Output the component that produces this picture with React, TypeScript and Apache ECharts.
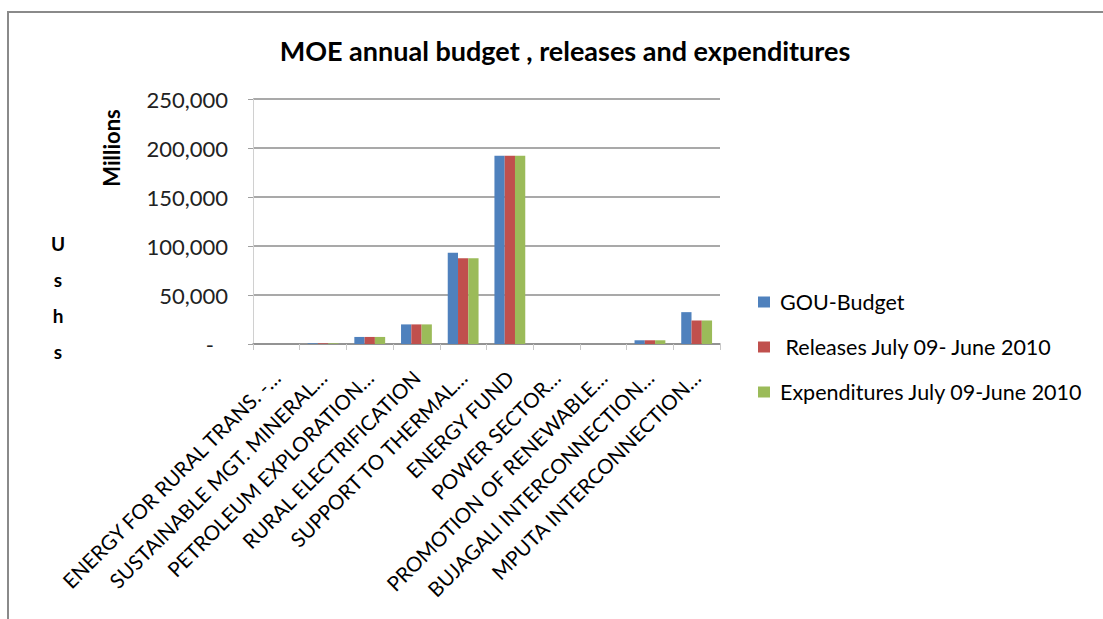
import React, { useEffect, useRef } from "react";
import * as echarts from "echarts";

const categories = [
  "ENERGY FOR RURAL TRANS. -…",
  "SUSTAINABLE MGT. MINERAL…",
  "PETROLEUM EXPLORATION…",
  "RURAL ELECTRIFICATION",
  "SUPPORT TO THERMAL…",
  "ENERGY FUND",
  "POWER SECTOR…",
  "PROMOTION OF RENEWABLE…",
  "BUJAGALI INTERCONNECTION…",
  "MPUTA INTERCONNECTION…",
];

const seriesNames = [
  "GOU-Budget",
  " Releases July 09- June 2010",
  "Expenditures July 09-June 2010",
];

const gouBudget = [0, 700, 7200, 20000, 93000, 192000, 0, 0, 3800, 32500];
const releases = [0, 700, 7200, 20000, 87500, 192000, 0, 0, 3800, 24000];
const expenditures = [0, 700, 7200, 20000, 87500, 192000, 0, 0, 3800, 24000];

const colors = ["#4F81BD", "#C0504D", "#9BBB59"];
const FONT = "Lato";

export default function App() {
  const ref = useRef<HTMLDivElement>(null);
  useEffect(() => {
    document.body.style.margin = "0";
    const chart = echarts.init(ref.current!, null, { renderer: "svg" });
    const values = [gouBudget, releases, expenditures];
    chart.setOption({
      animation: false,
      backgroundColor: "#ffffff",
      title: {
        text: "MOE annual budget , releases and expenditures",
        left: 560,
        top: 32,
        textAlign: "center",
        textStyle: { fontFamily: FONT, fontSize: 27, fontWeight: "bold", color: "#000" },
      },
      legend: {
        orient: "vertical",
        left: 753,
        top: 286,
        itemWidth: 12,
        itemHeight: 11,
        itemGap: 23,
        icon: "rect",
        data: seriesNames,
        textStyle: {
          fontFamily: FONT,
          fontSize: 21.5,
          lineHeight: 22,
          color: "#000",
          padding: [0, 0, 0, 5],
        },
      },
      grid: { left: 253, right: 383, top: 99, bottom: 275, containLabel: false },
      xAxis: {
        type: "category",
        data: categories,
        axisLine: { lineStyle: { color: "#8c8c8c", width: 1.5 } },
        axisTick: { show: true, length: 6, lineStyle: { color: "#c8c8c8" } },
        axisLabel: {
          rotate: 45,
          interval: 0,
          margin: 30,
          fontFamily: FONT,
          fontSize: 20.5,
          color: "#000",
        },
      },
      yAxis: {
        type: "value",
        min: 0,
        max: 250000,
        interval: 50000,
        axisLine: { show: true, lineStyle: { color: "#d0d0d0" } },
        axisTick: { show: true, length: 5, lineStyle: { color: "#a0a0a0" } },
        splitLine: { lineStyle: { color: "#8c8c8c", width: 1.5 } },
        axisLabel: {
          margin: 25,
          fontFamily: FONT,
          fontSize: 22,
          color: "#222",
          formatter: (v: number) =>
            v === 0 ? "{d|-}" : v.toLocaleString("en-US"),
          rich: { d: { padding: [0, 14, 0, 0], fontFamily: FONT, fontSize: 22, color: "#222" } },
        },
      },
      series: seriesNames.map((name, i) => ({
        name,
        type: "bar",
        data: values[i],
        barGap: "0%",
        barCategoryGap: "34%",
        itemStyle: { color: colors[i] },
      })),
      graphic: [
        {
          type: "polyline",
          shape: { points: [[8, 619], [8, 12], [1103, 12]] },
          style: { stroke: "#8a8a8a", lineWidth: 2, fill: "none" },
          silent: true,
        },
        {
          type: "text",
          x: 111,
          y: 148,
          rotation: Math.PI / 2,
          style: {
            text: "Millions",
            fontFamily: FONT,
            fontSize: 22,
            fontWeight: "bold",
            fill: "#000",
            align: "center",
            verticalAlign: "middle",
          },
        },
        {
          type: "text",
          x: 58,
          y: 225,
          style: {
            text: "U\ns\nh\ns",
            fontFamily: FONT,
            fontSize: 19,
            fontWeight: "bold",
            lineHeight: 36,
            fill: "#000",
            align: "center",
            verticalAlign: "top",
          },
        },
      ],
    });
    return () => chart.dispose();
  }, []);
  return <div ref={ref} style={{ width: 1103, height: 619 }} />;
}
